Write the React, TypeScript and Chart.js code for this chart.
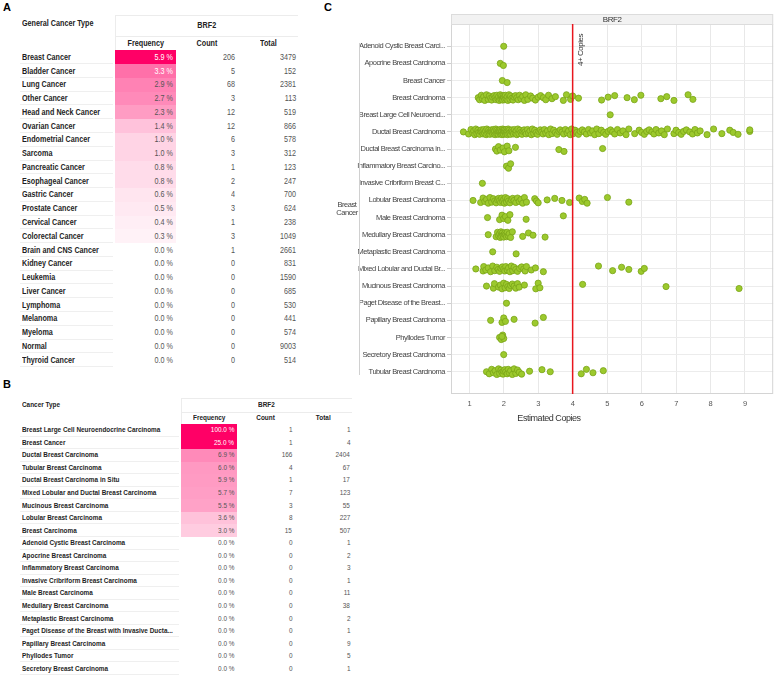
import React, { useEffect, useRef } from "react";
import { Chart, registerables } from "chart.js";

Chart.register(...registerables);

const SANS = "'Liberation Sans', Arial, sans-serif";
const SQUEEZE = 0.8;

// ---------- Panel A ----------
const A_TYPES = [
  "Breast Cancer", "Bladder Cancer", "Lung Cancer", "Other Cancer", "Head and Neck Cancer",
  "Ovarian Cancer", "Endometrial Cancer", "Sarcoma", "Pancreatic Cancer", "Esophageal Cancer",
  "Gastric Cancer", "Prostate Cancer", "Cervical Cancer", "Colorectal Cancer", "Brain and CNS Cancer",
  "Kidney Cancer", "Leukemia", "Liver Cancer", "Lymphoma", "Melanoma", "Myeloma", "Normal", "Thyroid Cancer",
];
const A_FREQ = [5.9, 3.3, 2.9, 2.7, 2.3, 1.4, 1.0, 1.0, 0.8, 0.8, 0.6, 0.5, 0.4, 0.3, 0, 0, 0, 0, 0, 0, 0, 0, 0];
const A_COUNT = [206, 5, 68, 3, 12, 12, 6, 3, 1, 2, 4, 3, 1, 3, 1, 0, 0, 0, 0, 0, 0, 0, 0];
const A_TOTAL = [3479, 152, 2381, 113, 519, 866, 578, 312, 123, 247, 700, 624, 238, 1049, 2661, 831, 1590, 685, 530, 441, 574, 9003, 514];

// ---------- Panel B ----------
const B_TYPES = [
  "Breast Large Cell Neuroendocrine Carcinoma", "Breast Cancer", "Ductal Breast Carcinoma",
  "Tubular Breast Carcinoma", "Ductal Breast Carcinoma in Situ", "Mixed Lobular and Ductal Breast Carcinoma",
  "Mucinous Breast Carcinoma", "Lobular Breast Carcinoma", "Breast Carcinoma", "Adenoid Cystic Breast Carcinoma",
  "Apocrine Breast Carcinoma", "Inflammatory Breast Carcinoma", "Invasive Cribriform Breast Carcinoma",
  "Male Breast Carcinoma", "Medullary Breast Carcinoma", "Metaplastic Breast Carcinoma",
  "Paget Disease of the Breast with Invasive Ducta...", "Papillary Breast Carcinoma", "Phyllodes Tumor",
  "Secretory Breast Carcinoma",
];
const B_FREQ = [100, 25, 6.9, 6.0, 5.9, 5.7, 5.5, 3.6, 3.0, 0, 0, 0, 0, 0, 0, 0, 0, 0, 0, 0];
const B_COUNT = [1, 1, 166, 4, 1, 7, 3, 8, 15, 0, 0, 0, 0, 0, 0, 0, 0, 0, 0, 0];
const B_TOTAL = [1, 4, 2404, 67, 17, 123, 55, 227, 507, 1, 2, 3, 1, 11, 38, 2, 1, 9, 5, 1];

// ---------- Panel C ----------
const C_CATS = [
  "Adenoid Cystic Breast Carci...", "Apocrine Breast Carcinoma", "Breast Cancer", "Breast Carcinoma",
  "Breast Large Cell Neuroend...", "Ductal Breast Carcinoma", "Ductal Breast Carcinoma in...",
  "Inflammatory Breast Carcino...", "Invasive Cribriform Breast C...", "Lobular Breast Carcinoma",
  "Male Breast Carcinoma", "Medullary Breast Carcinoma", "Metaplastic Breast Carcinoma",
  "Mixed Lobular and Ductal Br...", "Mucinous Breast Carcinoma", "Paget Disease of the Breast...",
  "Papillary Breast Carcinoma", "Phyllodes Tumor", "Secretory Breast Carcinoma", "Tubular Breast Carcinoma",
];
const C_XTICKS = [1, 2, 3, 4, 5, 6, 7, 8, 9];
const C_THRESHOLD = 4;

const C_ADENOID = [2.0];
const C_APOCRINE = [1.9, 1.99];
const C_BREAST_CANCER = [1.96, 2.1];
const C_BREAST_CARCINOMA = [
  1.26, 1.3, 1.35, 1.38, 1.42, 1.45, 1.5, 1.55, 1.58, 1.62, 1.65, 1.68, 1.72, 1.75, 1.78, 1.8, 1.83, 1.85,
  1.87, 1.9, 1.92, 1.94, 1.96, 1.97, 1.99, 2.0, 2.01, 2.03, 2.05, 2.07, 2.1, 2.12, 2.15, 2.18, 2.2, 2.24,
  2.27, 2.3, 2.34, 2.38, 2.42, 2.46, 2.5, 2.55, 2.6, 2.64, 2.7, 2.78, 2.84, 2.92, 3.0, 3.07, 3.15, 3.22,
  3.3, 3.4, 3.5, 3.73, 3.82, 3.94, 4.0, 4.17, 4.84, 5.03, 5.22, 5.58, 5.79, 5.98, 6.56, 6.73, 6.94, 7.35, 7.49,
];
const C_BREAST_LCNEC = [5.09];
const C_DUCTAL = [
  0.83, 0.98, 1.05, 1.1, 1.13, 1.16, 1.19, 1.22, 1.25, 1.27, 1.3, 1.32, 1.35, 1.37, 1.4, 1.42, 1.44, 1.47,
  1.49, 1.51, 1.54, 1.56, 1.58, 1.6, 1.62, 1.64, 1.66, 1.68, 1.7, 1.72, 1.73, 1.75, 1.77, 1.79, 1.8, 1.82,
  1.84, 1.85, 1.87, 1.88, 1.9, 1.91, 1.93, 1.94, 1.95, 1.97, 1.98, 1.99, 2.0, 2.0, 2.01, 2.02, 2.04, 2.05,
  2.07, 2.08, 2.1, 2.11, 2.13, 2.15, 2.16, 2.18, 2.2, 2.22, 2.24, 2.26, 2.28, 2.31, 2.33, 2.36, 2.38, 2.41,
  2.44, 2.47, 2.5, 2.53, 2.56, 2.59, 2.62, 2.65, 2.69, 2.72, 2.76, 2.8, 2.83, 2.87, 2.9, 2.94, 2.98, 3.02,
  3.06, 3.1, 3.14, 3.18, 3.22, 3.27, 3.31, 3.36, 3.4, 3.45, 3.5, 3.55, 3.6, 3.64, 3.69, 3.74, 3.79, 3.84,
  3.88, 3.93, 3.97, 4.02, 4.07, 4.12, 4.17, 4.22, 4.28, 4.34, 4.4, 4.46, 4.52, 4.58, 4.64, 4.7, 4.76, 4.83,
  4.9, 4.96, 5.03, 5.1, 5.16, 5.22, 5.3, 5.38, 5.46, 5.55, 5.63, 5.8, 5.93, 6.0, 6.08, 6.15, 6.22, 6.3,
  6.36, 6.42, 6.5, 6.58, 6.66, 6.75, 6.94, 7.0, 7.08, 7.15, 7.22, 7.3, 7.4, 7.48, 7.55, 7.62, 7.7, 7.9,
  8.09, 8.33, 8.56, 8.66, 8.8, 9.14, 9.14,
];
const C_DCIS = [1.76, 1.8, 1.85, 1.9, 1.98, 2.02, 2.1, 2.15, 2.34, 3.6, 3.75, 4.87];
const C_INFLAMMATORY = [2.08, 2.14, 2.2];
const C_INVASIVE = [1.38];
const C_LOBULAR = [
  1.11, 1.33, 1.4, 1.45, 1.5, 1.55, 1.6, 1.65, 1.7, 1.74, 1.78, 1.82, 1.85, 1.88, 1.91, 1.94, 1.97, 2.0,
  2.02, 2.05, 2.08, 2.11, 2.14, 2.18, 2.22, 2.26, 2.3, 2.35, 2.4, 2.45, 2.5, 2.55, 2.6, 2.66, 2.9, 2.95,
  3.0, 3.26, 3.48, 3.69, 3.91, 4.19, 4.28, 4.35, 4.42, 5.01, 5.63,
];
const C_MALE = [1.53, 1.88, 1.95, 2.0, 2.05, 2.12, 2.18, 2.65, 3.73];
const C_MEDULLARY = [
  1.55, 1.78, 1.82, 1.85, 1.88, 1.9, 1.92, 1.94, 1.96, 1.98, 2.0, 2.02, 2.04, 2.06, 2.08, 2.1, 2.13, 2.16,
  2.2, 2.25, 2.55, 2.72, 2.85, 3.2,
];
const C_METAPLASTIC = [1.68, 2.36];
const C_MIXED = [
  1.19, 1.4, 1.42, 1.48, 1.55, 1.62, 1.68, 1.74, 1.8, 1.84, 1.88, 1.92, 1.96, 2.0, 2.03, 2.06, 2.1, 2.14,
  2.18, 2.22, 2.26, 2.3, 2.35, 2.4, 2.46, 2.52, 2.58, 2.62, 2.66, 2.8, 2.92, 3.15, 4.75, 5.16, 5.42, 5.63,
  5.99, 6.08,
];
const C_MUCINOUS = [
  1.5, 1.7, 1.73, 1.85, 1.9, 1.95, 2.0, 2.04, 2.08, 2.12, 2.16, 2.2, 2.25, 2.3, 2.35, 2.4, 2.45, 2.6, 2.93,
  3.0, 3.05, 4.29, 6.71, 8.83,
];
const C_PAGET = [2.08];
const C_PAPILLARY = [1.62, 1.95, 2.0, 2.05, 2.3, 2.91, 3.15];
const C_PHYLLODES = [1.88, 1.93, 1.97, 2.0, 1.95];
const C_SECRETORY = [2.0];
const C_TUBULAR = [
  1.5, 1.58, 1.65, 1.7, 1.75, 1.8, 1.85, 1.88, 1.92, 1.95, 1.98, 2.0, 2.03, 2.06, 2.1, 2.13, 2.16, 2.2,
  2.25, 2.3, 2.35, 2.4, 2.45, 2.52, 2.75, 3.11, 3.35, 4.25, 4.4, 4.59, 4.89,
];

const C_VALUES = [
  C_ADENOID, C_APOCRINE, C_BREAST_CANCER, C_BREAST_CARCINOMA, C_BREAST_LCNEC, C_DUCTAL, C_DCIS,
  C_INFLAMMATORY, C_INVASIVE, C_LOBULAR, C_MALE, C_MEDULLARY, C_METAPLASTIC, C_MIXED, C_MUCINOUS,
  C_PAGET, C_PAPILLARY, C_PHYLLODES, C_SECRETORY, C_TUBULAR,
];

// vertical jitter pattern (style only, in category units)
const JITTER = [0, 0.12, -0.14, 0.06, -0.06, 0.16, -0.17, 0.1, -0.1, 0.03, 0.14, -0.03, -0.12];

function heat(v: number, cap: number) {
  if (v <= 0) return "transparent";
  const t = Math.min(1, v / cap);
  const g = Math.round(255 * (1 - t));
  const b = Math.round(255 - 153 * t);
  return `rgb(255,${g},${b})`;
}

type TableProps = {
  title: string;
  titleTop: number;
  heading: string;
  headingTop: number;
  labels: string[];
  freq: number[];
  count: number[];
  total: number[];
  cap: number;
  cols: number[]; // [labelLeft, freqLeft, countLeft, totalLeft, right]
  hdrTop: number;
  hdrMid: number;
  rowTop: number;
  rowH: number;
  fs: number;
};

function HeatTable(p: TableProps) {
  const [lx, fx, cx, tx, rx] = p.cols;
  const els: React.ReactNode[] = [];
  const justify = { left: "flex-start", right: "flex-end", center: "center" };
  const txt = (
    key: string, left: number, top: number, width: number, height: number, text: string,
    align: "left" | "right" | "center", style: React.CSSProperties
  ) =>
    els.push(
      <div
        key={key}
        style={{
          position: "absolute", left, top, width, height, display: "flex", alignItems: "center",
          justifyContent: justify[align], whiteSpace: "nowrap", fontFamily: SANS, fontSize: p.fs, lineHeight: 1,
        }}
      >
        <span style={{ display: "inline-block", flex: "none", transform: `scaleX(${SQUEEZE})`, transformOrigin: align, ...style }}>{text}</span>
      </div>
    );
  // panel letter
  els.push(
    <div key="letter" style={{ position: "absolute", left: 3, top: p.titleTop, fontFamily: SANS, fontWeight: "bold", fontSize: 11, lineHeight: "13px", color: "#000" }}>{p.title}</div>
  );
  txt("heading", lx + 2, p.headingTop, fx - lx, 14, p.heading, "left", { fontWeight: "bold", color: "#222" });
  // header lines
  els.push(<div key="hl1" style={{ position: "absolute", left: fx, top: p.hdrTop, width: rx - fx, height: 1, background: "#ececec" }} />);
  els.push(<div key="hl2" style={{ position: "absolute", left: fx, top: p.hdrMid, width: rx - fx, height: 1, background: "#ececec" }} />);
  els.push(<div key="hl3" style={{ position: "absolute", left: fx, top: p.hdrTop, width: 1, height: p.rowTop - p.hdrTop, background: "#ececec" }} />);
  txt("brf2", fx, p.hdrTop, rx - fx, p.hdrMid - p.hdrTop, "BRF2", "center", { fontWeight: "bold", color: "#222" });
  const subH = p.rowTop - p.hdrMid;
  txt("hf", fx, p.hdrMid, cx - fx, subH, "Frequency", "center", { fontWeight: "bold", color: "#222" });
  txt("hc", cx, p.hdrMid, tx - cx, subH, "Count", "center", { fontWeight: "bold", color: "#222" });
  txt("ht", tx, p.hdrMid, rx - tx, subH, "Total", "center", { fontWeight: "bold", color: "#222" });
  p.labels.forEach((lab, i) => {
    const top = p.rowTop + i * p.rowH;
    const t = Math.min(1, p.freq[i] / p.cap);
    els.push(<div key={"bg" + i} style={{ position: "absolute", left: fx, top, width: cx - fx, height: Math.ceil(p.rowH), background: heat(p.freq[i], p.cap) }} />);
    els.push(<div key={"ln" + i} style={{ position: "absolute", left: lx, top: top + p.rowH - 1, width: fx - lx - 2, height: 1, background: "#efefef" }} />);
    txt("l" + i, lx + 2, top, fx - lx - 4, p.rowH, lab, "left", { fontWeight: "bold", color: "#1e1e24" });
    txt("f" + i, fx, top, cx - fx - 3, p.rowH, p.freq[i].toFixed(1) + " %", "right", { color: t > 0.5 ? "#fff" : "#555" });
    txt("c" + i, cx, top, tx - cx - 3, p.rowH, String(p.count[i]), "right", { color: "#555" });
    txt("t" + i, tx, top, rx - tx - 2, p.rowH, String(p.total[i]), "right", { color: "#555" });
  });
  return <>{els}</>;
}

const decor = {
  id: "decor",
  beforeDraw(chart: any) {
    (chart.ctx as any).letterSpacing = "-0.45px";
  },
  afterDraw(chart: any) {
    const { ctx, chartArea: a, scales } = chart;
    ctx.save();
    ctx.lineWidth = 1;
    ctx.strokeStyle = "#d4d4d4";
    ctx.strokeRect(a.left + 0.5, a.top + 0.5, a.right - a.left - 1, a.bottom - a.top - 1);
    // header band
    ctx.fillStyle = "#f2f2f2";
    ctx.fillRect(a.left, 14, a.right - a.left, a.top - 14);
    ctx.strokeStyle = "#dcdcdc";
    ctx.strokeRect(a.left + 0.5, 14.5, a.right - a.left - 1, a.top - 14);
    ctx.fillStyle = "#333";
    ctx.font = `8px ${SANS}`;
    ctx.textAlign = "center";
    ctx.textBaseline = "middle";
    ctx.fillText("BRF2", (a.left + a.right) / 2, 19.5);
    // threshold line
    const xr = scales.x.getPixelForValue(C_THRESHOLD);
    ctx.strokeStyle = "#e8161e";
    ctx.lineWidth = 1.5;
    ctx.beginPath();
    ctx.moveTo(xr, a.top);
    ctx.lineTo(xr, a.bottom);
    ctx.stroke();
    ctx.save();
    ctx.translate(xr + 8.5, 50);
    ctx.rotate(-Math.PI / 2);
    ctx.fillStyle = "#333";
    ctx.font = `8px ${SANS}`;
    ctx.fillText("4+ Copies", 0, 0);
    ctx.restore();
    // x title
    ctx.fillStyle = "#333";
    ctx.font = `9px ${SANS}`;
    ctx.fillText("Estimated Copies", 219, 419);
    // group bracket & label
    ctx.strokeStyle = "#d0d0d0";
    ctx.lineWidth = 1;
    ctx.beginPath();
    ctx.moveTo(29.5, 43);
    ctx.lineTo(29.5, 375);
    ctx.stroke();
    ctx.fillStyle = "#444";
    ctx.font = `7.5px ${SANS}`;
    ctx.fillText("Breast", 17, 205);
    ctx.fillText("Cancer", 17, 213);
    ctx.restore();
  },
};

function StripChart() {
  const ref = useRef<HTMLCanvasElement>(null);
  useEffect(() => {
    const canvas = ref.current!;
    const points = C_VALUES.flatMap((vals, i) =>
      vals.map((v, j) => ({ x: v, y: i + JITTER[j % JITTER.length] }))
    );
    const chart = new Chart(canvas, {
      type: "scatter",
      data: {
        datasets: [
          {
            data: points,
            backgroundColor: "#9cc92d",
            borderColor: "#7aa418",
            borderWidth: 0.8,
            pointRadius: 3.1,
          },
        ],
      },
      options: {
        animation: false,
        responsive: false,
        devicePixelRatio: 1,
        layout: { padding: { top: 24, right: 1, left: 0, bottom: 0 } },
        plugins: { legend: { display: false }, tooltip: { enabled: false } },
        scales: {
          x: {
            type: "linear",
            min: 0.47,
            max: 9.82,
            afterBuildTicks: (s: any) => {
              s.ticks = C_XTICKS.map((v) => ({ value: v }));
            },
            afterFit: (s: any) => {
              s.height = 36;
            },
            grid: { color: "#e8e8e8", drawTicks: false },
            border: { display: false },
            ticks: { padding: 5, color: "#555", font: { size: 7.5, family: SANS } },
          },
          y: {
            type: "linear",
            min: -1.3,
            max: 20.3,
            reverse: true,
            afterBuildTicks: (s: any) => {
              s.ticks = C_CATS.map((_, i) => ({ value: i }));
            },
            afterFit: (s: any) => {
              s.width = 121;
            },
            grid: { color: "#ececec", tickLength: 4, tickColor: "#cfcfcf" },
            border: { display: false },
            ticks: {
              autoSkip: false,
              padding: 2,
              color: "#444",
              font: { size: 7.5, family: SANS },
              callback: (v: any) => C_CATS[v as number] ?? "",
            },
          },
        },
      },
      plugins: [decor],
    });
    return () => chart.destroy();
  }, []);
  return <canvas ref={ref} width={448} height={430} style={{ position: "absolute", left: 330, top: 0, width: 448, height: 430 }} />;
}

export default function App() {
  return (
    <div style={{ position: "fixed", left: 0, top: 0, width: 778, height: 676, background: "#fff", overflow: "hidden" }}>
      <HeatTable
        title="A"
        titleTop={1}
        heading="General Cancer Type"
        headingTop={16}
        labels={A_TYPES}
        freq={A_FREQ}
        count={A_COUNT}
        total={A_TOTAL}
        cap={5.9}
        cols={[20, 115, 176, 238, 298]}
        hdrTop={15}
        hdrMid={36}
        rowTop={50.4}
        rowH={13.77}
        fs={9}
      />
      <HeatTable
        title="B"
        titleTop={378}
        heading="Cancer Type"
        headingTop={398}
        labels={B_TYPES}
        freq={B_FREQ}
        count={B_COUNT}
        total={B_TOTAL}
        cap={15}
        cols={[20, 181, 237, 295, 352]}
        hdrTop={398}
        hdrMid={412}
        rowTop={424}
        rowH={12.55}
        fs={8}
      />
      <div style={{ position: "absolute", left: 324, top: 1, fontFamily: SANS, fontWeight: "bold", fontSize: 11, lineHeight: "13px", color: "#000" }}>C</div>
      <StripChart />
    </div>
  );
}
